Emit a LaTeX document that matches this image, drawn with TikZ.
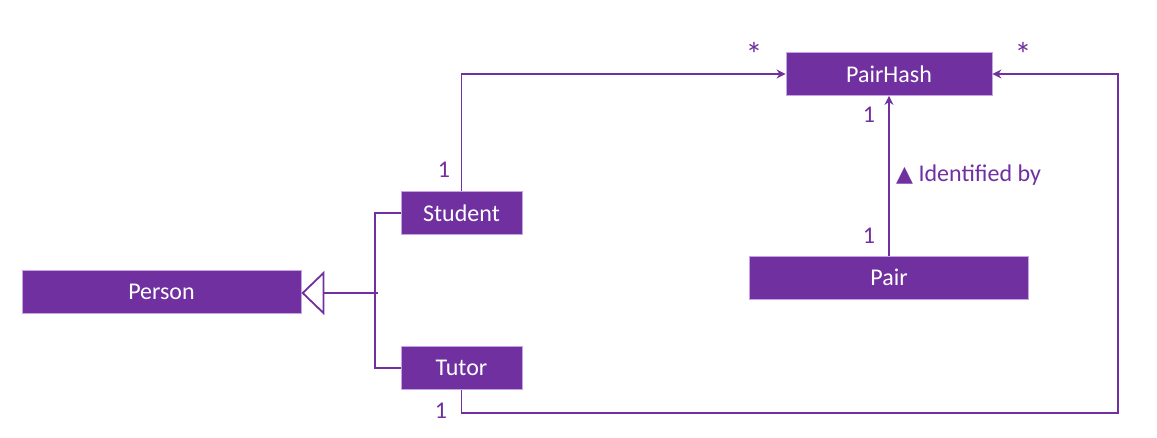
\documentclass[tikz,border=0pt]{standalone}
\usepackage{fontspec}
\setmainfont{Carlito}
\newfontfamily\symfont{DejaVu Sans}
\usetikzlibrary{arrows.meta, positioning}
\definecolor{umlpurple}{HTML}{7030A0}
\definecolor{umledge}{HTML}{C7A3E3}

\begin{document}
\begin{tikzpicture}[x=1pt, y=-1pt,
    classbox/.style={rectangle, draw=umledge, line width=0.8pt, fill=umlpurple, text=white,
      minimum height=43pt, inner sep=0pt, font=\fontsize{24}{28}\selectfont},
    mult/.style={text=umlpurple, inner sep=0pt, font=\fontsize{24}{28}\selectfont},
    assoc/.style={draw=umlpurple, line width=1.8pt, -{Stealth[length=9pt, width=9pt]}},
    inherit/.style={draw=umlpurple, line width=1.8pt}]
      \useasboundingbox (0,0) rectangle (1157,437);

      \node[classbox, minimum width=206pt] (pairhash) at (889,74) {PairHash};
      \node[classbox, minimum width=121pt] (student) at (461.5,213) {Student};
      \node[classbox, minimum width=121pt] (tutor) at (461.5,368) {Tutor};
      \node[classbox, minimum width=279pt] (person) at (161.5,291.5) {Person};
      \node[classbox, minimum width=279pt] (pair) at (889,277.5) {Pair};

      \coordinate (loopright) at (1118,413);
      \coordinate (joint) at (378,293);

      \draw[assoc] (student.north) |- (pairhash.west);
      \draw[assoc] (tutor.south) |- (loopright) |- (pairhash.east);
      \draw[assoc] (pair.north) -- (pairhash.south);

      \draw[inherit] (student.west) -- ++(-26,0) |- (tutor.west);
      \draw[inherit, -{Triangle[open, length=23pt, width=44pt]}] (joint) -- (joint -| person.east);

      \node[mult, font=\fontsize{34}{36}\selectfont] (starleft) at (754,54) {*};
      \node[mult, font=\fontsize{34}{36}\selectfont] (starright) at (1023,54) {*};
      \node[mult] (onestudent) at (444,170) {1};
      \node[mult] (onetutor) at (441,411) {1};
      \node[mult] (onehash) at (869,115) {1};
      \node[mult] (onepair) at (869,236) {1};
      \node[mult, anchor=west] (identified) at (896,175) {{\symfont\fontsize{22}{24}\selectfont ▲} Identified by};
    \end{tikzpicture}
\end{document}
